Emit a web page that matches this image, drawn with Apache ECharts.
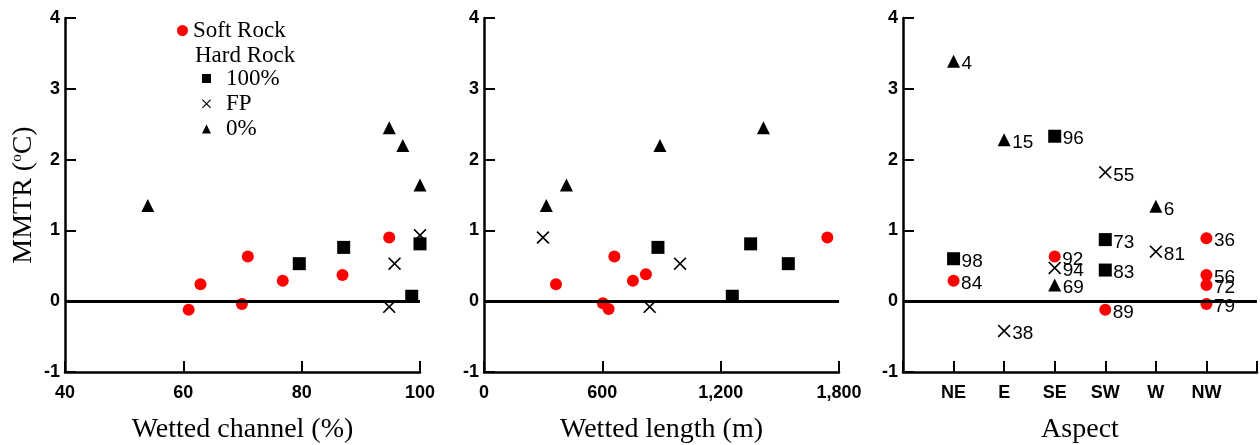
<!DOCTYPE html>
<html>
<head>
<meta charset="utf-8">
<script src="https://cdn.jsdelivr.net/npm/echarts@6/dist/echarts.min.js"></script>
<style>
html,body{margin:0;padding:0;background:#fff;}
#c{width:1260px;height:445px;}
</style>
</head>
<body>
<div id="c"></div>
<script>
// ---------- DATA ----------
const yTicks = [-1, 0, 1, 2, 3, 4];
const aspectCats = ['NE', 'E', 'SE', 'SW', 'W', 'NW'];

// Panel 1: Wetted channel (%) vs MMTR
const chanSoft = [[60.9,-0.12],[62.9,0.24],[69.9,-0.04],[70.9,0.63],[76.8,0.29],[86.9,0.37],[94.8,0.90]];
const chanH100 = [[79.6,0.53],[87.1,0.76],[98.6,0.07],[100,0.81]];
const chanFP   = [[94.8,-0.08],[95.7,0.53],[100,0.93]];
const chanH0   = [[54,1.35],[94.8,2.45],[97.1,2.20],[100,1.64]];

// Panel 2: Wetted length (m) vs MMTR
const lenSoft = [[365,0.24],[603,-0.03],[632,-0.11],[661,0.63],[755,0.29],[821,0.38],[1741,0.90]];
const lenH100 = [[882,0.76],[1259,0.07],[1352,0.81],[1543,0.53]];
const lenFP   = [[299,0.90],[840,-0.08],[994,0.53]];
const lenH0   = [[316,1.35],[418,1.64],[892,2.20],[1417,2.45]];

// Panel 3: Aspect vs MMTR  [aspect, value, site label]
const aspSoft = [['NE',0.29,'84'],['SE',0.63,'92'],['SW',-0.12,'89'],['NW',0.89,'36'],['NW',0.37,'56'],['NW',0.23,'72'],['NW',-0.04,'79']];
const aspH100 = [['NE',0.60,'98'],['SE',2.33,'96'],['SW',0.87,'73'],['SW',0.44,'83']];
const aspFP   = [['SE',0.47,'94'],['E',-0.42,'38'],['SW',1.82,'55'],['W',0.70,'81']];
const aspH0   = [['NE',3.39,'4'],['E',2.28,'15'],['SE',0.23,'69'],['W',1.34,'6']];

// ---------- STYLE ----------
const XPATH = 'path://M0,0.09L0.09,0L0.5,0.41L0.91,0L1,0.09L0.59,0.5L1,0.91L0.91,1L0.5,0.59L0.09,1L0,0.91L0.41,0.5Z';
const SANS = '"Liberation Sans", Arial, sans-serif';
const SERIF = '"Liberation Serif", "Times New Roman", serif';
const RED = '#ff0000';

const grids = [
  {left: 65, top: 18, width: 355, height: 354, outerBoundsMode: 'none', containLabel: false},
  {left: 484, top: 18, width: 355, height: 354, outerBoundsMode: 'none', containLabel: false},
  {left: 903, top: 18, width: 354, height: 354, outerBoundsMode: 'none', containLabel: false}
];

const axisLine = {show: true, onZero: false, lineStyle: {color: '#000', width: 2.5}};
const axisTick = {show: true, inside: true, length: 11, lineStyle: {color: '#000', width: 2}};
const tickLabel = {color: '#000', fontFamily: SANS, fontWeight: 'bold', fontSize: 18};
const titleStyle = {color: '#000', fontFamily: SERIF, fontSize: 28};

const yAxes = grids.map((g, i) => ({
  type: 'value', gridIndex: i, min: yTicks[0], max: yTicks[yTicks.length - 1], interval: 1,
  axisLine, axisTick, splitLine: {show: false},
  axisLabel: Object.assign({margin: 5}, tickLabel),
  name: i === 0 ? '{a|MMTR (}{sup|o}{a|C)}' : '',
  nameLocation: 'middle', nameGap: 27, nameRotate: 90,
  nameTextStyle: {
    rich: {
      a: {fontFamily: SERIF, fontSize: 28, color: '#000'},
      sup: {fontFamily: SERIF, fontSize: 15, color: '#000', verticalAlign: 'top', padding: [0, 0, 10, 0]}
    }
  }
}));

const xAxes = [
  {type: 'value', gridIndex: 0, min: 40, max: 100, interval: 20,
   axisLine, axisTick, splitLine: {show: false},
   axisLabel: Object.assign({margin: 12}, tickLabel),
   name: 'Wetted channel (%)', nameLocation: 'middle', nameGap: 44, nameTextStyle: titleStyle},
  {type: 'value', gridIndex: 1, min: 0, max: 1800, interval: 600,
   axisLine, axisTick, splitLine: {show: false},
   axisLabel: Object.assign({margin: 12, formatter: v => v.toLocaleString('en-US')}, tickLabel),
   name: 'Wetted length (m)', nameLocation: 'middle', nameGap: 44, nameTextStyle: titleStyle},
  {type: 'category', gridIndex: 2, data: [''].concat(aspectCats, ['']), boundaryGap: false,
   axisLine, axisTick: Object.assign({interval: 0}, axisTick), splitLine: {show: false},
   axisLabel: Object.assign({margin: 12, interval: 0}, tickLabel),
   name: 'Aspect', nameLocation: 'middle', nameGap: 44, nameTextStyle: titleStyle}
];

const zeroLine = {
  silent: true, symbol: ['none', 'none'], label: {show: false},
  lineStyle: {color: '#000', width: 3, type: 'solid'},
  data: [{yAxis: 0}]
};

const kinds = [
  {name: 'Soft Rock', symbol: 'circle', size: 12, color: RED},
  {name: '100%', symbol: 'rect', size: 13, color: '#000'},
  {name: 'FP', symbol: XPATH, size: 13, color: '#000'},
  {name: '0%', symbol: 'triangle', size: 13, color: '#000'}
];
const panelData = [
  [chanSoft, chanH100, chanFP, chanH0],
  [lenSoft, lenH100, lenFP, lenH0],
  [aspSoft, aspH100, aspFP, aspH0]
];

const series = [];
panelData.forEach((sets, p) => {
  sets.forEach((d, k) => {
    const kd = kinds[k];
    const s = {
      type: 'scatter', name: kd.name, xAxisIndex: p, yAxisIndex: p,
      symbol: kd.symbol, symbolSize: kd.size,
      itemStyle: {color: kd.color, opacity: 1},
      data: d
    };
    if (p === 2) {
      s.label = {show: true, position: 'right', distance: 1.5, offset: [0, 3],
        formatter: q => q.value[2], color: '#000', fontFamily: SANS, fontSize: 19};
    }
    if (k === 0) s.markLine = zeroLine;
    series.push(s);
  });
});

const chart = echarts.init(document.getElementById('c'), null, {renderer: 'canvas'});
chart.setOption({
  animation: false,
  backgroundColor: '#fff',
  grid: grids,
  xAxis: xAxes,
  yAxis: yAxes,
  legend: [
    {left: 177, top: 19, padding: 0, orient: 'vertical', selectedMode: false,
     itemWidth: 11, itemHeight: 11,
     data: [{name: 'Soft Rock', icon: 'circle'}],
     textStyle: {fontFamily: SERIF, fontSize: 23, lineHeight: 23, color: '#000'}},
    {left: 202, top: 67, padding: 0, orient: 'vertical', selectedMode: false,
     itemWidth: 9, itemHeight: 9, itemGap: 2.3,
     data: [{name: '100%', icon: 'rect'}, {name: 'FP', icon: XPATH}, {name: '0%', icon: 'triangle'}],
     textStyle: {fontFamily: SERIF, fontSize: 23, lineHeight: 20, color: '#000', padding: [0, 0, 0, 10]}}
  ],
  graphic: [
    {type: 'text', left: 195, top: 44, silent: true,
     style: {text: 'Hard Rock', font: '23px ' + SERIF, fill: '#000'}}
  ],
  series
});
</script>
</body>
</html>
